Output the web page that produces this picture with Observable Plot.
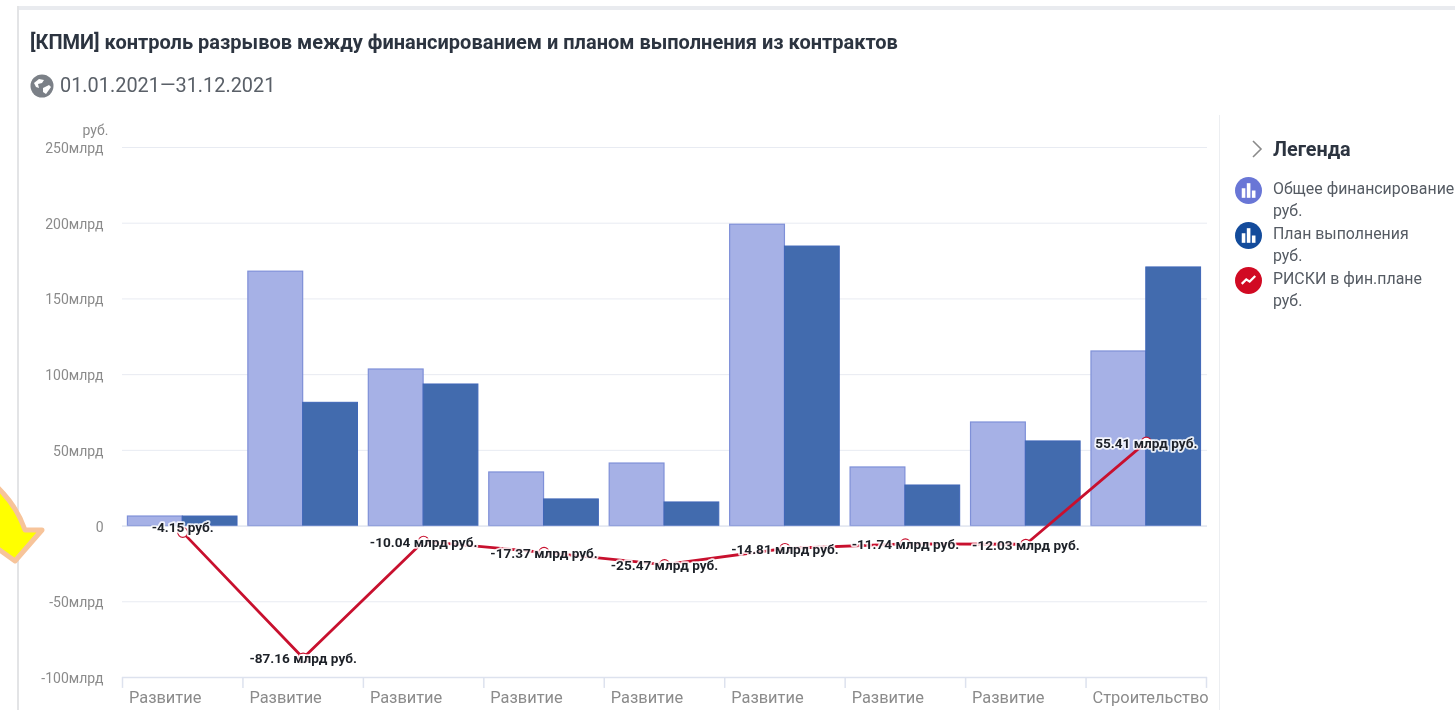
<!DOCTYPE html>
<html lang="ru">
<head>
<meta charset="utf-8">
<script src="https://cdn.jsdelivr.net/npm/d3@7"></script>
<script src="https://cdn.jsdelivr.net/npm/@observablehq/plot@0.6"></script>
<style>
html,body{margin:0;padding:0;width:1455px;height:710px;overflow:hidden;background:#fff;font-family:Roboto,sans-serif}
#page{position:absolute;left:0;top:0;width:1455px;height:710px;overflow:hidden;filter:blur(0.4px)}
#topbar{position:absolute;left:18px;right:0;top:6px;height:4px;background:#e9ebef}
#leftbar{position:absolute;left:17px;top:6px;bottom:0;width:2px;background:#e3e4e6}
#divider{position:absolute;left:1219px;top:115px;bottom:0;width:1px;background:#eceef1}
#title{position:absolute;left:30px;top:31px;font:700 20px/22px Roboto,sans-serif;color:#2c3440;white-space:nowrap}
#period{position:absolute;left:60px;top:74px;font:400 19.9px/24px Roboto,sans-serif;color:#5a6068;white-space:nowrap}
#globe{position:absolute;left:30px;top:74px}
#chart{position:absolute;left:0;top:0}
#arrow{position:absolute;left:0;top:470px}
#legend{position:absolute;left:1235px;top:0;width:220px;height:330px;overflow:hidden}
#legend .head{position:absolute;left:38px;top:139px;font:700 19.8px/22px Roboto,sans-serif;color:#2c3440}
#legend .chev{position:absolute;left:16px;top:139px}
#legend .item{position:absolute;left:38px;font:400 15.9px/22px Roboto,sans-serif;color:#555b63;white-space:nowrap}
#legend svg.ic{position:absolute;left:0}
</style>
</head>
<body>
<div id="page">
<div id="topbar"></div>
<div id="leftbar"></div>
<div id="divider"></div>
<div id="title"></div>
<svg id="globe" width="24" height="24" viewBox="0 0 24 24"><circle cx="12" cy="12" r="11.5" fill="#7b8087"/><path d="M4 9l5-4 5 1-2 3-4 1 1 4-3-1zM13 14l6-3 2 2-5 7-3-2z" fill="#fff"/></svg>
<div id="period"></div>
<div id="chart"></div>
<svg id="arrow" width="50" height="100" viewBox="0 0 50 100"><path d="M-6 14 Q16 34 25 60 L42 60 L15 91 L-6 76 Z" fill="#ffff00" stroke="#f7c49a" stroke-width="5" stroke-linejoin="round"/></svg>
<div id="legend"></div>
</div>
<script>
const titleText = "[КПМИ] контроль разрывов между финансированием и планом выполнения из контрактов";
const periodText = "01.01.2021—31.12.2021";
const unitLabel = "руб.";
const categories = ["Развитие","Развитие","Развитие","Развитие","Развитие","Развитие","Развитие","Развитие","Строительство"];
const funding = [6.3, 168, 103.4, 35.4, 41.3, 199, 38.7, 68.4, 115.3];
const plan = [6.3, 81.4, 93.5, 17.6, 15.6, 184.6, 26.8, 55.9, 170.8];
const risk = [-4.15, -87.16, -10.04, -17.37, -25.47, -14.81, -11.74, -12.03, 55.41];
const riskLabels = ["-4.15 руб.","-87.16 млрд руб.","-10.04 млрд руб.","-17.37 млрд руб.","-25.47 млрд руб.","-14.81 млрд руб.","-11.74 млрд руб.","-12.03 млрд руб.","55.41 млрд руб."];
const yTicks = [-100,-50,0,50,100,150,200,250];
const legendNames = ["Общее финансирование","План выполнения","РИСКИ в фин.плане"];
const colors = {funding:"#a6b1e6", fundingEdge:"#7f90d8", plan:"#426bae", planEdge:"#3f66b8", risk:"#c8102e", grid:"#e8ebf2", axis:"#dde2ee", tick:"#8b8b8b"};

document.getElementById("title").textContent = titleText;
document.getElementById("period").textContent = periodText;

const idx = categories.map((_, i) => i);
const W = 1227, H = 710, mL = 122, mR = 20, mT = 147, mB = 33, xEnd = 1206;
const step = (xEnd - mL) / categories.length;
const half = step * 0.91 / 2;
const labelStyle = {x: d => d, y: i => risk[i], text: i => riskLabels[i],
  fontSize: 13.6, fontWeight: 700, fill: "#1d2128", stroke: "#fff", strokeWidth: 3.5, strokeOpacity: 0.85, paintOrder: "stroke"};

const chart = Plot.plot({
  width: W, height: H,
  marginLeft: mL, marginRight: mR, marginTop: mT, marginBottom: mB,
  style: {background: "transparent", fontFamily: "Roboto, sans-serif"},
  x: {type: "band", domain: idx, range: [mL, xEnd], paddingInner: 0.09, paddingOuter: 0.045, align: 0.5, round: false, label: null},
  y: {domain: [-100, 250], label: null},
  marks: [
    Plot.gridY(yTicks.filter(d => d > -100), {stroke: colors.grid, strokeOpacity: 1}),
    Plot.ruleY([-100], {stroke: colors.axis, strokeWidth: 1.5}),
    Plot.ruleX(idx, {x: d => d, y1: -100, y2: -107.2, dx: -step / 2, stroke: colors.axis, strokeWidth: 1.5}),
    Plot.ruleX([idx[idx.length - 1]], {x: d => d, y1: -100, y2: -107.2, dx: step / 2, stroke: colors.axis, strokeWidth: 1.5}),
    Plot.axisY({ticks: yTicks, tickSize: 0, tickPadding: 19, dy: 1, label: null,
      tickFormat: d => d === 0 ? "0" : d + "млрд", fontSize: 14, color: colors.tick}),
    Plot.text([unitLabel], {frameAnchor: "top-left", text: d => d, dx: 82 - mL, dy: -22, fontSize: 14, fill: colors.tick, textAnchor: "start"}),
    Plot.axisX({ticks: idx, tickSize: 0, tickPadding: 14, label: null, textAnchor: "start", dx: -step / 2 + 6.5,
      tickFormat: i => categories[i], fontSize: 16.4, color: colors.tick}),
    Plot.barY(idx, {x: d => d, y: i => funding[i], insetRight: half, fill: colors.funding, stroke: colors.fundingEdge, strokeWidth: 1.2}),
    Plot.barY(idx, {x: d => d, y: i => plan[i], insetLeft: half, fill: colors.plan, stroke: colors.planEdge, strokeWidth: 1}),
    Plot.ruleY([0], {stroke: "#cdd3e6", strokeOpacity: 0.6}),
    Plot.lineY(idx, {x: d => d, y: i => risk[i], stroke: colors.risk, strokeWidth: 2.8, curve: "linear"}),
    Plot.dot(idx, {x: d => d, y: i => risk[i], r: 5, stroke: colors.risk, strokeWidth: 1.2, fill: "#fff"}),
    Plot.text(idx.slice(0, 1), {...labelStyle, dy: -5}),
    Plot.text(idx.slice(1), {...labelStyle, dy: 1})
  ]
});
document.getElementById("chart").appendChild(chart);

const bar = '<rect x="6" y="10" width="3.2" height="8.5" fill="#fff"/><rect x="10.5" y="5.5" width="3.2" height="13" fill="#fff"/><rect x="15" y="12" width="3.2" height="6.5" fill="#fff"/>';
const zig = '<path d="M6 15l4-4 3 2 5-5" fill="none" stroke="#fff" stroke-width="2"/>';
const icons = [["#6976d6", bar], ["#134b9b", bar], ["#d10a23", zig]];
const tops = [178, 223, 268];
const icTops = [177, 222, 267];
const legend = document.getElementById("legend");
legend.innerHTML = '<svg class="chev" width="12" height="20" viewBox="0 0 12 20"><path d="M2 2l8 8-8 8" fill="none" stroke="#8a8a8a" stroke-width="1.6"/></svg><div class="head">Легенда</div>' +
  legendNames.map((n, i) => `<svg class="ic" style="top:${icTops[i]}px" width="27" height="27" viewBox="0 0 24 24"><circle cx="12" cy="12" r="12" fill="${icons[i][0]}"/>${icons[i][1]}</svg><div class="item" style="top:${tops[i]}px">${n}<br>${unitLabel}</div>`).join("");
</script>
</body>
</html>
